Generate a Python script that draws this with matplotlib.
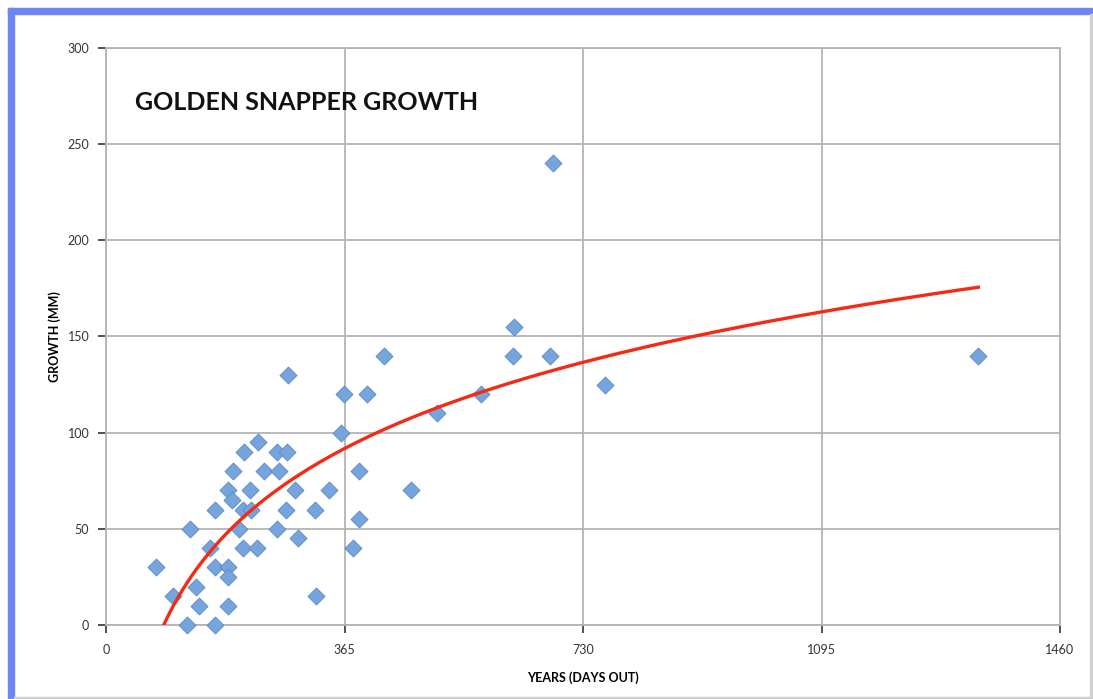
import matplotlib
matplotlib.use("Agg")

import numpy as np
import matplotlib.pyplot as plt
from matplotlib.patches import Rectangle

# ---------- DATA ----------
days = [76, 103, 124, 129, 137, 142, 159, 167, 167, 167,
        187, 187, 187, 187, 193, 194, 204, 209, 210, 211,
        222, 220, 231, 233, 242, 261, 261, 264, 276, 277,
        279, 289, 294, 320, 321, 341, 359, 364, 378, 387,
        387, 399, 425, 467, 507, 574, 623, 624, 680, 684,
        764, 1335]
growth = [30, 15, 0, 50, 20, 10, 40, 60, 30, 0,
          70, 30, 25, 10, 65, 80, 50, 40, 60, 90,
          60, 70, 40, 95, 80, 50, 90, 80, 60, 90,
          130, 70, 45, 60, 15, 70, 100, 120, 40, 80,
          55, 120, 140, 70, 110, 120, 140, 155, 140, 240,
          125, 140]
x_ticks = [0, 365, 730, 1095, 1460]
y_ticks = [0, 50, 100, 150, 200, 250, 300]

# ---------- THEME ----------
FONT = "Lato"
POINT_COLOR = "#76a5dd"
POINT_EDGE = "#5b88c4"
TREND_COLOR = "#f52a16"
GRID = "#b4b4b4"
FRAME_BLUE = "#6d86f4"

plt.rcParams["font.family"] = [FONT, "DejaVu Sans"]

fig = plt.figure(figsize=(10.93, 6.99), dpi=100)
fig.patch.set_facecolor("white")
ax = fig.add_axes([106 / 1093, 1 - 625 / 699, 954 / 1093, 577 / 699])

# window frame (blue top/left, grey right/bottom)
frame = [
    ((8 / 1093, 1 - 14 / 699), 1 - 8 / 1093, 6 / 699, FRAME_BLUE),
    ((8 / 1093, 0), 6 / 1093, 1 - 8 / 699, FRAME_BLUE),
    ((1090 / 1093, 0), 2 / 1093, 1 - 14 / 699, "#d0d0d0"),
    ((14 / 1093, 0), 1 - 14 / 1093, 2 / 699, "#d0d0d0"),
]
for xy, w, h, c in frame:
    fig.patches.append(Rectangle(xy, w, h, transform=fig.transFigure,
                                 color=c, zorder=0))

# ---------- DRAW ----------
ax.scatter(days, growth, marker="D", s=75, color=POINT_COLOR,
           edgecolor=POINT_EDGE, linewidth=0.6, zorder=3, clip_on=False)

# logarithmic trend line
a, b = np.polyfit(np.log(days), growth, 1)
xs = np.linspace(min(days), max(days), 400)
ax.plot(xs, a * np.log(xs) + b, color=TREND_COLOR, lw=2.4, zorder=4)

ax.set_xlim(0, 1460)
ax.set_ylim(0, 300)
ax.set_xticks(x_ticks)
ax.set_yticks(y_ticks)
ax.grid(True, color=GRID, lw=1.3)
ax.set_axisbelow(True)
for side in ax.spines.values():
    side.set_color(GRID)
    side.set_linewidth(1.3)
ax.tick_params(colors="#333333", labelsize=9, length=6, width=1.2,
               direction="out", pad=6)
ax.tick_params(axis="x", pad=8)
for t in ax.get_xticklines() + ax.get_yticklines():
    t.set_color(GRID)

ax.set_xlabel("YEARS (DAYS OUT)", fontsize=9, fontweight="bold", labelpad=11)
ax.set_ylabel("GROWTH (MM)", fontsize=9, fontweight="bold", labelpad=5)

fig.text(135 / 1093, 1 - 103 / 699, "GOLDEN SNAPPER GROWTH", fontsize=18,
         fontweight="bold", va="center", ha="left", color="#111111")

fig.savefig("out.png", dpi=100, facecolor="white")
